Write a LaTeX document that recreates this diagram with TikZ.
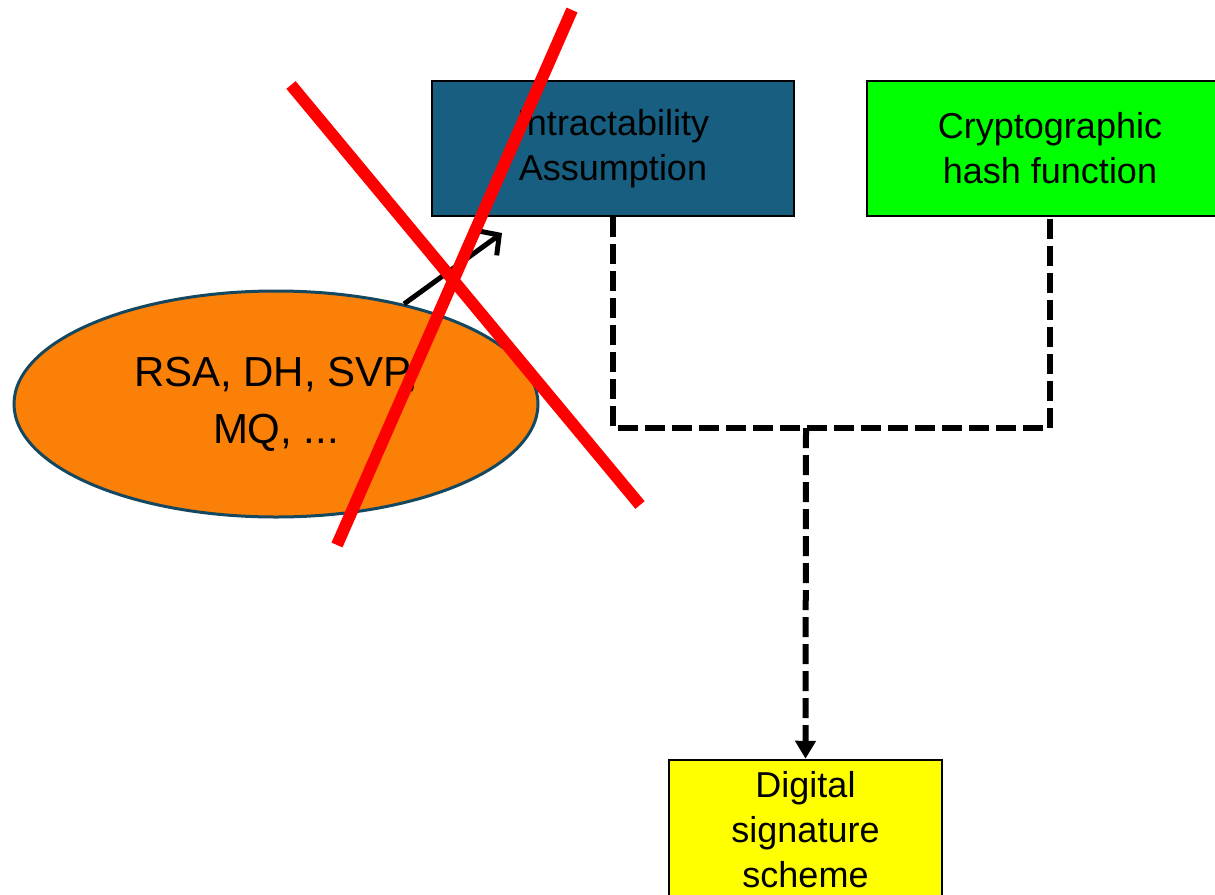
\documentclass[tikz,border=0pt]{standalone}
\usepackage{fontspec}
\setmainfont{Liberation Sans}
\usetikzlibrary{arrows.meta,shapes.geometric}
\definecolor{iablue}{RGB}{23,94,128}
\definecolor{hashgreen}{RGB}{0,255,0}
\definecolor{sigyellow}{RGB}{255,255,0}
\definecolor{elorange}{RGB}{250,128,8}
\definecolor{elborder}{RGB}{20,72,96}
\begin{document}
\begin{tikzpicture}[x=1pt,y=-1pt,
  box/.style={draw=black,line width=2.5pt,align=center,inner sep=0pt,
    font=\fontsize{36}{45}\selectfont},
  dashconn/.style={draw=black,line width=6pt,dash pattern=on 20pt off 7pt},
  crossline/.style={draw=red,line width=12pt},
  barb/.style={draw=black,line width=5pt,-{Straight Barb[length=14pt,width=30pt]}}]
\clip (0,0) rectangle (1215,894);
\useasboundingbox (0,0) rectangle (1215,894);

\node[box,fill=iablue,minimum width=362pt,minimum height=135pt] (ia) at (613,148.5)
  {\raisebox{-3pt}{Intractability}\\\raisebox{-3pt}{Assumption}};
\node[box,fill=hashgreen,minimum width=366pt,minimum height=135pt] (hf) at (1050,148.5)
  {Cryptographic\\hash function};
\node[box,fill=sigyellow,minimum width=273pt,minimum height=140pt] (ds) at (805.5,830)
  {Digital\\signature\\scheme};
\node[ellipse,draw=elborder,fill=elorange,line width=3pt,minimum width=524pt,
  minimum height=226pt,inner sep=0pt,align=center,
  font=\fontsize{42}{57}\selectfont] (el) at (276,404)
  {\raisebox{-5pt}{RSA, DH, SVP,}\\\raisebox{-5pt}{MQ, ...}};

\coordinate (j) at (806,428);
\coordinate (tip) at (502,233);

\draw[dashconn] (ia.south) |- (j) -| (hf.south);
\draw[dashconn,-{Triangle[length=18pt,width=20pt]}] (j) -- (ds.north);
\draw[barb] (el.38.8) -- (tip);

\draw[crossline] (572,10) -- (337,545);
\draw[crossline] (291,85) -- (640,505);
\end{tikzpicture}
\end{document}
